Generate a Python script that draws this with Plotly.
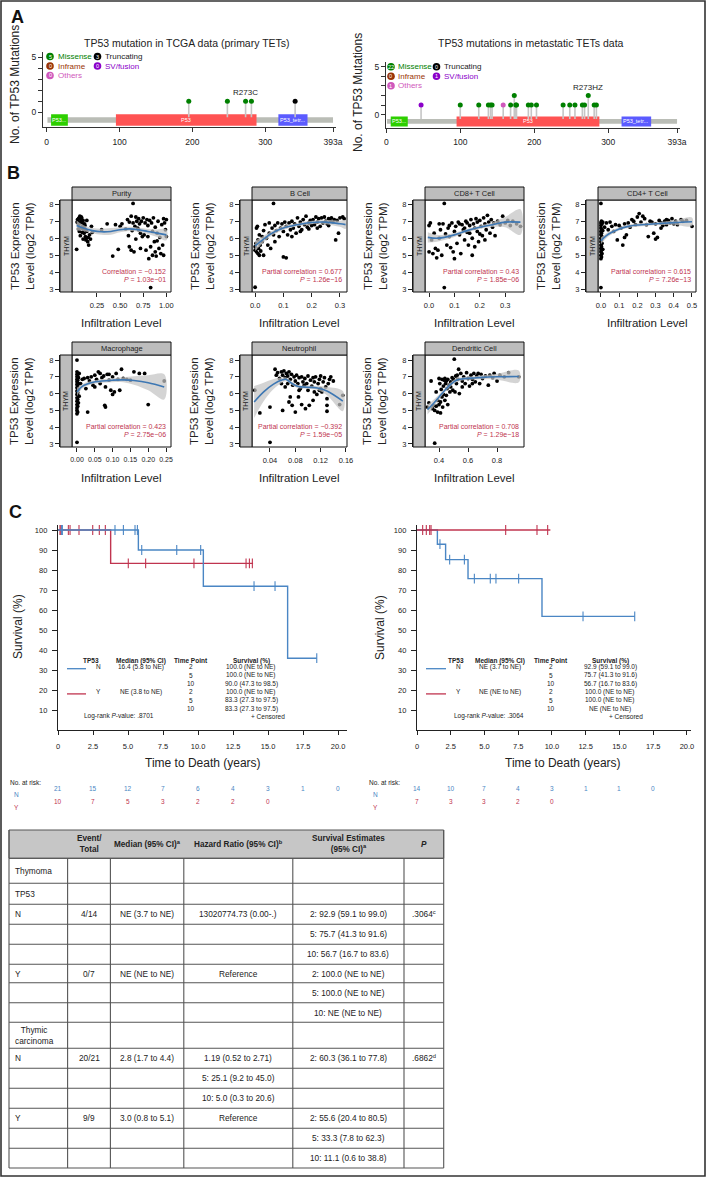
import plotly.graph_objects as go

W, H = 706, 1177
NARROW = "'Liberation Sans Narrow', 'Arial Narrow', 'Liberation Sans', Arial, sans-serif"
SANS = "'Liberation Sans', Arial, sans-serif"

BLUE = '#4a86c4'
RED = '#c0344f'
LOESS = '#3d77b3'


def px(x):
    return x / W


def py(y):
    return 1 - y / H


# ---------------------------------------------------------------- panel A data
aa_tickvals = [0, 100, 200, 300, 393]
aa_ticktext = ['0', '100', '200', '300', '393a']
protein_len = 393
dom_label = ['P53...', 'P53', 'P53_tetr...']
dom_start = [6, 95, 318]
dom_end = [29, 288, 358]
dom_color = ['#2dcf00', '#ff5353', '#5b5bff']

mut_color = {'Missense': '#008000', 'Truncating': '#000000', 'Inframe': '#993404',
             'SV/fusion': '#8b00c9', 'Others': '#cf58bc'}

tcga_pos = [195, 248, 273, 281, 341]
tcga_cnt = [1, 1, 1, 1, 1]
tcga_type = ['Missense', 'Missense', 'Missense', 'Missense', 'Truncating']
tcga_legend = {'Missense': 5, 'Inframe': 0, 'Others': 0, 'Truncating': 3, 'SV/fusion': 0}

meta_pos = [47, 100, 125, 138, 141, 143, 158, 168, 173, 175, 176, 192, 196, 203,
            239, 248, 255, 265, 268, 273, 281, 284]
meta_cnt = [1, 1, 1, 1, 1, 1, 1, 1, 2, 1, 1, 1, 1, 1, 1, 1, 1, 1, 1, 2, 1, 1]
meta_type = ['SV/fusion'] + ['Missense'] * 5 + ['Others'] + ['Missense'] * 15
meta_legend = {'Missense': 22, 'Inframe': 0, 'Others': 1, 'Truncating': 0, 'SV/fusion': 1}

# ---------------------------------------------------------------- panel B data
purity_pts = [(0.03, 5.35), (0.035, 6.95), (0.04, 7.1), (0.045, 6.9), (0.05, 7.15), (0.055, 6.8),
              (0.06, 7.2), (0.065, 7.3), (0.07, 6.95), (0.075, 7.1), (0.08, 6.6), (0.085, 7.2),
              (0.09, 6.9), (0.095, 6.7), (0.1, 7.05), (0.105, 6.5), (0.11, 6.3), (0.115, 6.85),
              (0.12, 6.55), (0.125, 6.1), (0.13, 5.9), (0.135, 6.0), (0.14, 6.4), (0.15, 5.8),
              (0.155, 6.05), (0.16, 5.6), (0.17, 6.2), (0.18, 5.95), (0.19, 6.7), (0.2, 6.35),
              (0.06, 6.4), (0.07, 6.15), (0.09, 6.35), (0.1, 5.95), (0.12, 6.75), (0.14, 7.05),
              (0.08, 7.25), (0.05, 6.55), (0.3, 6.5), (0.36, 6.85), (0.42, 4.95), (0.45, 6.8),
              (0.48, 5.35), (0.5, 6.7), (0.52, 6.85), (0.56, 6.55), (0.58, 7.1), (0.6, 5.5),
              (0.6, 6.95), (0.62, 5.3), (0.62, 7.3), (0.64, 8.05), (0.64, 6.9), (0.65, 5.2),
              (0.66, 6.7), (0.67, 5.95), (0.67, 7.25), (0.68, 7.0), (0.7, 7.15), (0.7, 6.5),
              (0.71, 6.85), (0.72, 5.4), (0.73, 7.0), (0.74, 6.1), (0.75, 7.2), (0.76, 6.2),
              (0.77, 6.9), (0.63, 6.45), (0.69, 6.6), (0.72, 6.3), (0.59, 6.15), (0.78, 5.3),
              (0.79, 7.1), (0.8, 6.75), (0.8, 6.1), (0.81, 4.8), (0.82, 7.05), (0.83, 3.1),
              (0.83, 5.5), (0.84, 6.9), (0.85, 6.4), (0.85, 5.0), (0.86, 7.2), (0.87, 5.8),
              (0.88, 6.65), (0.88, 5.2), (0.89, 4.95), (0.9, 6.3), (0.91, 7.0), (0.92, 5.4),
              (0.93, 6.05), (0.94, 5.1), (0.95, 6.8), (0.96, 5.6), (0.97, 7.15), (0.98, 6.9),
              (0.99, 6.5), (1.0, 7.1), (1.0, 6.1), (0.97, 5.0), (0.9, 5.85)]
purity_fit_x = [0.03, 0.1, 0.2, 0.3, 0.4, 0.5, 0.6, 0.7, 0.8, 0.9, 1.0]
purity_fit_y = [6.75, 6.6, 6.45, 6.38, 6.4, 6.5, 6.55, 6.5, 6.4, 6.3, 6.2]
purity_fit_se = [0.3, 0.18, 0.15, 0.18, 0.2, 0.15, 0.12, 0.12, 0.15, 0.22, 0.32]

bcell_pts = [(0.0, 3.12), (0.0, 5.3), (0.0, 5.5), (0.003, 5.7), (0.005, 6.6), (0.005, 5.2),
             (0.008, 6.7), (0.01, 5.1), (0.01, 5.9), (0.012, 5.4), (0.015, 6.2), (0.015, 5.0),
             (0.018, 5.6), (0.02, 5.25), (0.025, 6.1), (0.025, 5.8), (0.03, 5.0), (0.03, 6.45),
             (0.035, 6.8), (0.04, 6.0), (0.045, 5.6), (0.05, 6.3), (0.05, 6.9), (0.055, 5.4),
             (0.06, 6.6), (0.065, 8.05), (0.065, 6.2), (0.07, 6.75), (0.07, 5.8), (0.075, 6.45),
             (0.08, 6.9), (0.085, 6.1), (0.09, 6.6), (0.095, 6.85), (0.1, 4.9), (0.1, 6.4),
             (0.105, 6.95), (0.11, 4.85), (0.11, 6.7), (0.115, 6.2), (0.12, 6.9), (0.125, 6.5),
             (0.13, 7.0), (0.135, 6.6), (0.14, 6.85), (0.145, 6.3), (0.15, 7.2), (0.155, 6.7),
             (0.16, 6.95), (0.165, 6.5), (0.17, 7.1), (0.175, 6.8), (0.18, 7.3), (0.185, 6.65),
             (0.19, 6.9), (0.195, 7.05), (0.2, 6.75), (0.13, 6.1), (0.16, 6.4), (0.19, 6.55),
             (0.205, 7.1), (0.21, 6.8), (0.215, 7.25), (0.22, 6.95), (0.225, 7.15), (0.23, 6.7),
             (0.235, 7.2), (0.24, 6.9), (0.245, 7.25), (0.25, 7.0), (0.255, 6.85), (0.26, 7.15),
             (0.265, 7.05), (0.27, 7.2), (0.275, 6.95), (0.28, 7.1), (0.285, 5.9), (0.29, 7.05),
             (0.295, 6.3), (0.3, 7.2), (0.31, 7.25), (0.315, 7.15), (0.22, 6.6), (0.26, 6.75)]
bcell_fit_x = [0.0, 0.03, 0.06, 0.1, 0.15, 0.2, 0.25, 0.3, 0.32]
bcell_fit_y = [5.55, 5.95, 6.3, 6.6, 6.8, 6.93, 6.95, 6.85, 6.8]
bcell_fit_se = [0.3, 0.2, 0.14, 0.12, 0.1, 0.1, 0.12, 0.18, 0.25]

cd8_pts = [(0.0, 6.75), (0.0, 5.2), (0.005, 6.9), (0.01, 5.9), (0.015, 5.1), (0.02, 6.3),
           (0.025, 5.4), (0.03, 4.85), (0.035, 5.3), (0.04, 6.0), (0.045, 6.5), (0.05, 5.0),
           (0.055, 6.85), (0.06, 8.05), (0.06, 3.1), (0.065, 6.25), (0.07, 5.6), (0.075, 6.6),
           (0.08, 6.1), (0.085, 5.45), (0.09, 6.9), (0.095, 5.2), (0.1, 6.4), (0.1, 4.8),
           (0.105, 6.7), (0.11, 5.7), (0.115, 6.95), (0.12, 6.2), (0.125, 5.1), (0.13, 6.8),
           (0.135, 6.5), (0.14, 5.9), (0.145, 7.0), (0.15, 6.35), (0.15, 6.9), (0.155, 5.6),
           (0.16, 6.75), (0.165, 7.1), (0.17, 6.0), (0.17, 5.0), (0.175, 6.85), (0.18, 6.6),
           (0.185, 7.15), (0.19, 6.4), (0.19, 6.95), (0.195, 5.8), (0.2, 7.05), (0.205, 6.7),
           (0.21, 6.15), (0.215, 7.2), (0.22, 6.85), (0.225, 6.5), (0.23, 7.35), (0.235, 6.95),
           (0.24, 6.3), (0.245, 7.1), (0.25, 6.65), (0.255, 6.9), (0.26, 6.15), (0.27, 7.0),
           (0.28, 6.8), (0.29, 7.3), (0.3, 6.9), (0.31, 7.05), (0.32, 6.75), (0.33, 7.0),
           (0.345, 6.85), (0.36, 6.7), (0.12, 6.85), (0.14, 6.6), (0.16, 6.3), (0.18, 5.5),
           (0.2, 6.25), (0.22, 5.9), (0.08, 6.75), (0.04, 6.85)]
cd8_fit_x = [-0.005, 0.03, 0.06, 0.1, 0.15, 0.2, 0.25, 0.3, 0.36]
cd8_fit_y = [6.05, 6.0, 6.05, 6.2, 6.45, 6.65, 6.8, 6.95, 6.95]
cd8_fit_se = [0.3, 0.2, 0.15, 0.12, 0.1, 0.1, 0.14, 0.3, 0.75]

cd4_pts = [(0.0, 8.05), (0.0, 3.1), (0.0, 4.8), (0.0, 5.0), (0.0, 5.2), (0.0, 5.4), (0.0, 5.6),
           (0.0, 5.8), (0.0, 6.0), (0.0, 6.2), (0.0, 6.4), (0.0, 6.6), (0.0, 6.75), (0.0, 6.9),
           (0.003, 4.9), (0.003, 5.3), (0.003, 5.5), (0.003, 5.9), (0.003, 6.3), (0.003, 6.5),
           (0.003, 7.0), (0.006, 5.1), (0.006, 5.7), (0.006, 6.1), (0.006, 6.85), (0.01, 5.35),
           (0.01, 6.45), (0.01, 6.95), (0.02, 6.65), (0.03, 6.9), (0.04, 6.5), (0.05, 6.95),
           (0.06, 6.7), (0.07, 6.4), (0.08, 6.8), (0.09, 5.9), (0.1, 6.75), (0.11, 6.6),
           (0.12, 5.6), (0.13, 6.05), (0.13, 6.85), (0.14, 6.2), (0.15, 6.9), (0.16, 6.65),
           (0.17, 7.1), (0.18, 7.0), (0.19, 6.8), (0.2, 7.25), (0.21, 7.45), (0.22, 6.95),
           (0.23, 7.3), (0.24, 7.15), (0.25, 6.8), (0.26, 6.1), (0.27, 7.0), (0.28, 6.95),
           (0.29, 6.3), (0.3, 5.95), (0.3, 6.85), (0.31, 6.05), (0.32, 7.05), (0.33, 6.9),
           (0.34, 6.75), (0.35, 7.0), (0.36, 6.8), (0.37, 7.05), (0.38, 6.9), (0.39, 7.15),
           (0.4, 6.85), (0.41, 7.0), (0.42, 6.8), (0.44, 7.1), (0.45, 7.0), (0.47, 7.05),
           (0.5, 6.7), (0.33, 6.6), (0.36, 7.1)]
cd4_fit_x = [0.0, 0.03, 0.06, 0.1, 0.15, 0.2, 0.3, 0.4, 0.5]
cd4_fit_y = [5.85, 6.15, 6.35, 6.55, 6.7, 6.78, 6.85, 6.92, 6.97]
cd4_fit_se = [0.2, 0.15, 0.12, 0.1, 0.1, 0.1, 0.08, 0.12, 0.25]

macro_pts = [(0.0, 8.0), (0.0, 3.1), (0.0, 4.8), (0.0, 5.0), (0.0, 5.15), (0.0, 5.35), (0.0, 5.55),
             (0.0, 5.75), (0.0, 5.95), (0.0, 6.15), (0.0, 6.35), (0.0, 6.55), (0.0, 6.7),
             (0.0, 6.85), (0.0, 7.0), (0.0, 7.15), (0.0, 7.3), (0.002, 4.9), (0.002, 5.25),
             (0.002, 5.65), (0.002, 6.05), (0.002, 6.45), (0.002, 6.8), (0.002, 7.05),
             (0.004, 5.45), (0.004, 6.25), (0.004, 6.6), (0.004, 6.95), (0.006, 5.85),
             (0.006, 7.2), (0.01, 6.6), (0.015, 6.85), (0.02, 6.9), (0.025, 6.3), (0.03, 4.9),
             (0.03, 6.95), (0.035, 6.75), (0.04, 7.0), (0.045, 6.5), (0.05, 7.1), (0.055, 6.85),
             (0.06, 7.3), (0.065, 6.6), (0.07, 6.95), (0.075, 7.05), (0.078, 5.3), (0.08, 5.2),
             (0.08, 6.4), (0.085, 7.15), (0.09, 6.8), (0.095, 6.2), (0.1, 5.95), (0.1, 7.0),
             (0.105, 6.1), (0.11, 7.2), (0.115, 6.85), (0.12, 6.2), (0.125, 7.45), (0.13, 6.9),
             (0.14, 6.85), (0.15, 6.8), (0.16, 7.3), (0.175, 7.2), (0.19, 7.2), (0.2, 5.35),
             (0.245, 6.75), (0.05, 6.4), (0.065, 7.2), (0.09, 7.15)]
macro_fit_x = [0.0, 0.01, 0.02, 0.04, 0.07, 0.1, 0.13, 0.16, 0.2, 0.245]
macro_fit_y = [6.1, 6.35, 6.5, 6.65, 6.75, 6.8, 6.82, 6.78, 6.65, 6.4]
macro_fit_se = [0.25, 0.15, 0.12, 0.1, 0.1, 0.12, 0.15, 0.25, 0.45, 0.75]

neut_pts = [(0.016, 6.2), (0.024, 4.85), (0.04, 3.1), (0.04, 5.2), (0.048, 7.45), (0.05, 7.1),
            (0.052, 7.25), (0.055, 6.9), (0.058, 7.3), (0.06, 7.1), (0.06, 5.0), (0.062, 7.35),
            (0.064, 6.95), (0.066, 7.2), (0.068, 7.05), (0.068, 6.6), (0.07, 7.3), (0.07, 5.5),
            (0.072, 6.85), (0.074, 7.15), (0.075, 5.3), (0.076, 6.5), (0.078, 7.0), (0.08, 6.75),
            (0.08, 4.9), (0.082, 7.1), (0.084, 6.6), (0.085, 5.8), (0.086, 6.95), (0.088, 6.3),
            (0.09, 7.0), (0.09, 5.35), (0.092, 6.7), (0.094, 6.5), (0.095, 6.9), (0.096, 5.1),
            (0.098, 6.6), (0.1, 7.05), (0.1, 6.2), (0.102, 5.3), (0.104, 6.8), (0.106, 6.45),
            (0.108, 6.95), (0.11, 6.1), (0.11, 6.7), (0.112, 7.0), (0.114, 5.95), (0.116, 6.6),
            (0.118, 6.85), (0.12, 6.3), (0.12, 7.05), (0.122, 6.1), (0.124, 6.7), (0.126, 6.95),
            (0.128, 6.4), (0.13, 5.7), (0.13, 5.3), (0.13, 4.95), (0.132, 6.6), (0.134, 6.85),
            (0.136, 7.0), (0.14, 6.75), (0.155, 5.9), (0.064, 6.4), (0.072, 5.8), (0.086, 6.2),
            (0.058, 6.6), (0.108, 5.6), (0.118, 6.2), (0.15, 5.35)]
neut_fit_x = [0.015, 0.03, 0.045, 0.06, 0.065, 0.075, 0.085, 0.1, 0.115, 0.13, 0.155]
neut_fit_y = [5.5, 6.1, 6.55, 6.82, 6.85, 6.6, 6.42, 6.38, 6.33, 6.15, 5.55]
neut_fit_se = [0.95, 0.55, 0.3, 0.15, 0.12, 0.1, 0.1, 0.1, 0.12, 0.25, 0.6]

dend_pts = [(0.32, 5.2), (0.33, 5.45), (0.345, 6.75), (0.355, 5.1), (0.36, 5.3), (0.37, 3.05),
            (0.37, 5.0), (0.38, 5.25), (0.38, 6.1), (0.39, 4.9), (0.39, 5.6), (0.4, 5.35),
            (0.4, 6.9), (0.405, 6.6), (0.41, 4.85), (0.41, 5.5), (0.415, 6.25), (0.42, 5.8),
            (0.42, 6.85), (0.425, 5.2), (0.43, 6.45), (0.43, 5.95), (0.435, 6.8), (0.44, 5.6),
            (0.44, 6.9), (0.445, 6.6), (0.45, 5.9), (0.45, 6.75), (0.455, 6.3), (0.46, 5.35),
            (0.46, 6.85), (0.47, 6.5), (0.475, 6.1), (0.48, 6.7), (0.49, 6.95), (0.495, 6.2),
            (0.5, 6.85), (0.505, 8.05), (0.51, 6.1), (0.515, 7.05), (0.52, 6.6), (0.525, 7.1),
            (0.53, 6.85), (0.535, 7.45), (0.54, 6.0), (0.55, 7.2), (0.56, 6.75), (0.57, 7.0),
            (0.58, 6.6), (0.59, 7.25), (0.6, 6.9), (0.61, 6.45), (0.62, 7.1), (0.63, 6.85),
            (0.64, 7.2), (0.65, 6.7), (0.66, 7.05), (0.67, 7.2), (0.68, 6.6), (0.69, 7.15),
            (0.7, 6.9), (0.72, 7.05), (0.74, 6.5), (0.75, 7.1), (0.77, 6.95), (0.78, 7.2),
            (0.8, 6.75), (0.82, 7.1), (0.85, 7.0), (0.88, 7.25), (0.95, 7.0), (0.63, 6.6),
            (0.48, 6.4), (0.56, 6.4)]
dend_fit_x = [0.32, 0.36, 0.4, 0.44, 0.48, 0.52, 0.56, 0.62, 0.7, 0.8, 0.95]
dend_fit_y = [5.05, 5.4, 5.8, 6.2, 6.55, 6.8, 6.88, 6.92, 6.97, 7.0, 7.02]
dend_fit_se = [0.3, 0.22, 0.15, 0.12, 0.12, 0.12, 0.1, 0.1, 0.12, 0.18, 0.35]

b_names = ['Purity', 'B Cell', 'CD8+ T Cell', 'CD4+ T Cell', 'Macrophage', 'Neutrophil', 'Dendritic Cell']
b_corr_label = ['Correlation', 'Partial correlation', 'Partial correlation', 'Partial correlation',
                'Partial correlation', 'Partial correlation', 'Partial correlation']
b_corr = ['\u22120.152', '0.677', '0.43', '0.615', '0.423', '\u22120.392', '0.708']
b_pval = ['1.03e\u221201', '1.26e\u221216', '1.85e\u221206', '7.26e\u221213', '2.75e\u221206',
          '1.59e\u221205', '1.29e\u221218']
b_xticks = [[0.25, 0.5, 0.75, 1.0], [0, 0.1, 0.2, 0.3], [0, 0.1, 0.2, 0.3],
            [0, 0.1, 0.2, 0.3, 0.4, 0.5], [0, 0.05, 0.1, 0.15, 0.2, 0.25],
            [0.04, 0.08, 0.12, 0.16], [0.4, 0.6, 0.8]]
b_xticktext = [['0.25', '0.50', '0.75', '1.00'], ['0.0', '0.1', '0.2', '0.3'],
               ['0.0', '0.1', '0.2', '0.3'], ['0.0', '0.1', '0.2', '0.3', '0.4', '0.5'],
               ['0.00', '0.05', '0.10', '0.15', '0.20', '0.25'], ['0.04', '0.08', '0.12', '0.16'],
               ['0.4', '0.6', '0.8']]
b_yticks = [3, 4, 5, 6, 7, 8]

# ---------------------------------------------------------------- panel C data
km_ticks = [0, 2.5, 5, 7.5, 10, 12.5, 15, 17.5, 20]
km_ticktext = ['0', '2.5', '5.0', '7.5', '10.0', '12.5', '15.0', '17.5', '20.0']
km_yticks = [10, 20, 30, 40, 50, 60, 70, 80, 90, 100]

kmL_N_t = [0, 5.74, 10.38, 16.4, 18.48]
kmL_N_s = [100, 90.0, 71.9, 35.9, 35.9]
kmL_N_ct = [0.26, 0.31, 4.07, 4.67, 5.5, 5.67, 5.98, 8.48, 10.19, 14.0, 15.5, 18.48]
kmL_N_cs = [100, 100, 100, 100, 100, 100, 90, 90, 90, 71.9, 71.9, 35.9]
kmL_Y_t = [0, 3.76, 13.93]
kmL_Y_s = [100, 83.3, 83.3]
kmL_Y_ct = [0.14, 0.2, 0.74, 0.86, 1.5, 2.48, 2.95, 3.38, 5.02, 6.26, 9.71, 13.43, 13.67, 13.88]
kmL_Y_cs = [100, 100, 100, 100, 100, 100, 100, 100, 83.3, 83.3, 83.3, 83.3, 83.3, 83.3]

kmR_N_t = [0, 1.51, 2.12, 3.78, 9.26, 16.13]
kmR_N_s = [100, 92.9, 85.2, 75.7, 56.8, 56.8]
kmR_N_ct = [1.7, 2.42, 3.51, 4.25, 5.43, 5.85, 7.53, 12.3, 16.13]
kmR_N_cs = [92.9, 85.2, 85.2, 75.7, 75.7, 75.7, 75.7, 56.8, 56.8]
kmR_Y_t = [0, 9.88]
kmR_Y_s = [100, 100]
kmR_Y_ct = [0.42, 0.69, 0.94, 1.04, 6.57, 8.89, 9.68]
kmR_Y_cs = [100, 100, 100, 100, 100, 100, 100]

kmL_median = ['16.4 (5.8 to NE)', 'NE (3.8 to NE)']
kmL_surv = [['100.0 (NE to NE)', '100.0 (NE to NE)', '90.0 (47.3 to 98.5)'],
            ['100.0 (NE to NE)', '83.3 (27.3 to 97.5)', '83.3 (27.3 to 97.5)']]
kmL_logrank = '.8701'
kmR_median = ['NE (3.7 to NE)', 'NE (NE to NE)']
kmR_surv = [['92.9 (59.1 to 99.0)', '75.7 (41.3 to 91.6)', '56.7 (16.7 to 83.6)'],
            ['100.0 (NE to NE)', '100.0 (NE to NE)', 'NE (NE to NE)']]
kmR_logrank = '.3064'
km_timepoints = ['2', '5', '10']

riskL_N = [21, 15, 12, 7, 6, 4, 3, 1, 0]
riskL_Y = [10, 7, 5, 3, 2, 2, 0]
riskR_N = [14, 10, 7, 4, 3, 1, 1, 0]
riskR_Y = [7, 3, 3, 2, 0]

# ---------------------------------------------------------------- table data
tbl_header = ['', 'Event/<br>Total', 'Median (95% CI)<sup>a</sup>', 'Hazard Ratio (95% CI)<sup>b</sup>',
              'Survival Estimates<br>(95% CI)<sup>a</sup>', '<i>P</i>']
tbl_body = [
    ['Thymoma', '', '', '', '', ''],
    ['TP53', '', '', '', '', ''],
    ['N', '4/14', 'NE (3.7 to NE)', '13020774.73 (0.00-.)', '2: 92.9 (59.1 to 99.0)', '.3064<sup>c</sup>'],
    ['', '', '', '', '5: 75.7 (41.3 to 91.6)', ''],
    ['', '', '', '', '10: 56.7 (16.7 to 83.6)', ''],
    ['Y', '0/7', 'NE (NE to NE)', 'Reference', '2: 100.0 (NE to NE)', ''],
    ['', '', '', '', '5: 100.0 (NE to NE)', ''],
    ['', '', '', '', '10: NE (NE to NE)', ''],
    ['Thymic<br>carcinoma', '', '', '', '', ''],
    ['N', '20/21', '2.8 (1.7 to 4.4)', '1.19 (0.52 to 2.71)', '2: 60.3 (36.1 to 77.8)', '.6862<sup>d</sup>'],
    ['', '', '', '5: 25.1 (9.2 to 45.0)', '', ''],
    ['', '', '', '10: 5.0 (0.3 to 20.6)', '', ''],
    ['Y', '9/9', '3.0 (0.8 to 5.1)', 'Reference', '2: 55.6 (20.4 to 80.5)', ''],
    ['', '', '', '', '5: 33.3 (7.8 to 62.3)', ''],
    ['', '', '', '', '10: 11.1 (0.6 to 38.8)', ''],
]
tbl_cols = [9, 67.6, 110.4, 183.8, 292.8, 404, 443.7]
tbl_rows = [830, 858.3, 883.3, 904.3, 924.3, 944.3, 964.3, 982.7, 1002.7, 1022.3, 1048.3,
            1068.3, 1088.3, 1108.3, 1128.3, 1148.3, 1168]

# ----------------------------------------------------------------------------------------------
fig = go.Figure()
annots = []
shapes = []
axes = {}


def text(x, y, s, size=8, color='#222', family=NARROW, xanchor='center', yanchor='middle', angle=0):
    annots.append(dict(x=px(x), y=py(y), xref='paper', yref='paper', text=s, showarrow=False,
                       font=dict(size=size, color=color, family=family), xanchor=xanchor,
                       yanchor=yanchor, textangle=angle))


def rect(x0, y0, x1, y1, fill='rgba(0,0,0,0)', line='#222', lw=1):
    shapes.append(dict(type='rect', xref='paper', yref='paper', x0=px(x0), x1=px(x1),
                       y0=py(y1), y1=py(y0), fillcolor=fill, line=dict(color=line, width=lw)))


def seg(x0, y0, x1, y1, color='#444', lw=1):
    shapes.append(dict(type='line', xref='paper', yref='paper', x0=px(x0), x1=px(x1),
                       y0=py(y0), y1=py(y1), line=dict(color=color, width=lw)))


def ax_names(k):
    return ('x', 'y') if k == 1 else (f'x{k}', f'y{k}')


# ---------------------------------------------------------------- panel A
def lollipop(k, pos, cnt, typ, legend, hot, hot_label, xdom, ydom, xr, yr, leg_x, leg_y):
    xa, ya = ax_names(k)
    sx, sy = [], []
    for p, c in zip(pos, cnt):
        sx += [p, p, None]
        sy += [-0.45, c, None]
    fig.add_trace(go.Scatter(x=sx, y=sy, mode='lines', line=dict(color='#c6c6c6', width=1.6),
                             xaxis=xa, yaxis=ya, hoverinfo='skip'))
    fig.add_trace(go.Scatter(x=pos, y=cnt, mode='markers', xaxis=xa, yaxis=ya,
                             marker=dict(size=5, color=[mut_color[t] for t in typ])))
    shapes.append(dict(type='rect', xref=xa, yref=ya, x0=1, x1=protein_len, y0=-0.95, y1=-0.45,
                       fillcolor='#babdb6', line_width=0, layer='below'))
    for lab, a, b, col in zip(dom_label, dom_start, dom_end, dom_color):
        shapes.append(dict(type='rect', xref=xa, yref=ya, x0=a, x1=b, y0=-1.22, y1=-0.18,
                           fillcolor=col, line_width=0, layer='below'))
        annots.append(dict(x=(a + b) / 2, y=-0.7, xref=xa, yref=ya, text=lab, showarrow=False,
                           font=dict(size=5.5, color='white', family=SANS)))
    hc = cnt[pos.index(hot)]
    annots.append(dict(x=hot, y=hc, xref=xa, yref=ya, text=hot_label, showarrow=False,
                       yanchor='bottom', yshift=2, font=dict(size=8, color='#222', family=SANS)))
    common = dict(showline=True, linecolor='#333', linewidth=1.2, ticks='outside', ticklen=4,
                  tickcolor='#333', showgrid=False, zeroline=False, tickangle=0,
                  tickfont=dict(size=8.5, color='#222', family=SANS))
    axes['xaxis' if k == 1 else f'xaxis{k}'] = dict(
        domain=[px(xdom[0]), px(xdom[1])], range=xr, anchor=ya, tickvals=aa_tickvals,
        ticktext=aa_ticktext, ticklabelstandoff=2, **common)
    axes['yaxis' if k == 1 else f'yaxis{k}'] = dict(
        domain=[py(ydom[1]), py(ydom[0])], range=yr, anchor=xa, tickvals=[0, 5], **common)
    # unit ticks without labels
    axes['yaxis' if k == 1 else f'yaxis{k}']['minor'] = dict(tickvals=[1, 2, 3, 4], ticks='outside',
                                                             ticklen=4, tickcolor='#333')
    entries = [('Missense', 0, 0), ('Inframe', 0, 1), ('Others', 0, 2),
               ('Truncating', 1, 0), ('SV/fusion', 1, 1)]
    for name, c, r in entries:
        cx, cy = leg_x[c], leg_y[r]
        col = mut_color[name]
        shapes.append(dict(type='circle', xref='paper', yref='paper', x0=px(cx - 3.8),
                           x1=px(cx + 3.8), y0=py(cy + 3.8), y1=py(cy - 3.8),
                           fillcolor=col, line_width=0))
        text(cx, cy, str(legend[name]), size=5.5, color='white', family=SANS)
        text(cx + 5.5, cy, name, size=8, color=col if name != 'Truncating' else '#222',
             family=SANS, xanchor='left')


lollipop(1, tcga_pos, tcga_cnt, tcga_type, tcga_legend, 273, 'R273C',
         (43, 336), (52, 127.3), [-5.1, 397.1], [-1.36, 5.48], (50, 97.5), (56.5, 66, 75.5))
lollipop(2, meta_pos, meta_cnt, meta_type, meta_legend, 273, 'R273HZ',
         (386, 680), (62, 127.7), [-0.4, 397.0], [-1.354, 5.49], (391, 436.5), (66.7, 76.3, 85.7))

text(187, 43, 'TP53 mutation in TCGA data (primary TETs)', size=10.5, family=SANS)
text(531, 43, 'TP53 mutations in metastatic TETs data', size=10.5, family=SANS)
text(15, 85, 'No. of TP53 Mutations', size=12, angle=-90, family=SANS)
text(358, 92, 'No. of TP53 Mutations', size=12, angle=-90, family=SANS)
text(17, 17, '<b>A</b>', size=18, color='#111', family=SANS)

# ---------------------------------------------------------------- panel B
b_cols = [(72, 171), (252, 347), (425, 524), (598, 696)]
b_rows = [(200, 292), (355, 447)]
b_yrange = [[2.84, 8.25], [2.82, 8.30]]
b_xrange = [[-0.02, 1.05], [-0.011, 0.325], [-0.016, 0.374], [-0.016, 0.522],
            [-0.014, 0.264], [0.0116, 0.1616], [0.303, 0.986]]
b_pts = [purity_pts, bcell_pts, cd8_pts, cd4_pts, macro_pts, neut_pts, dend_pts]
b_fit = [(purity_fit_x, purity_fit_y, purity_fit_se), (bcell_fit_x, bcell_fit_y, bcell_fit_se),
         (cd8_fit_x, cd8_fit_y, cd8_fit_se), (cd4_fit_x, cd4_fit_y, cd4_fit_se),
         (macro_fit_x, macro_fit_y, macro_fit_se), (neut_fit_x, neut_fit_y, neut_fit_se),
         (dend_fit_x, dend_fit_y, dend_fit_se)]

for i, name in enumerate(b_names):
    k = 3 + i
    xa, ya = ax_names(k)
    r, c = divmod(i, 4)
    x0, x1 = b_cols[c]
    y0, y1 = b_rows[r]
    xs = [p[0] for p in b_pts[i]]
    ys = [p[1] for p in b_pts[i]]
    fig.add_trace(go.Scatter(x=xs, y=ys, mode='markers', xaxis=xa, yaxis=ya,
                             marker=dict(size=3.8, color='black')))
    fx, fy, fse = b_fit[i]
    up = [a + b for a, b in zip(fy, fse)]
    lo = [a - b for a, b in zip(fy, fse)]
    fig.add_trace(go.Scatter(x=fx + fx[::-1], y=up + lo[::-1], mode='lines', fill='toself',
                             fillcolor='rgba(196,196,196,0.72)', line=dict(width=0, shape='spline'),
                             xaxis=xa, yaxis=ya, hoverinfo='skip'))
    fig.add_trace(go.Scatter(x=fx, y=fy, mode='lines', line=dict(color=LOESS, width=1.6, shape='spline'),
                             xaxis=xa, yaxis=ya))
    axes[f'xaxis{k}'] = dict(domain=[px(x0), px(x1)], range=b_xrange[i], anchor=ya,
                             tickvals=b_xticks[i], ticktext=b_xticktext[i], ticks='outside',
                             ticklen=4, tickcolor='#222', showline=False, showgrid=False,
                             zeroline=False, ticklabelstandoff=2, tickangle=0,
                             tickfont=dict(size=7 if i == 4 else 7.5, color='#222', family=NARROW))
    axes[f'yaxis{k}'] = dict(domain=[py(y1), py(y0)], range=b_yrange[r], anchor='free',
                             position=px(x0 - 13), tickvals=b_yticks, ticks='outside', ticklen=4,
                             tickcolor='#222', showline=True, linecolor='#222', linewidth=1,
                             showgrid=False, zeroline=False, tickangle=0,
                             tickfont=dict(size=7.5, color='#222', family=NARROW))
    rect(x0, y0, x1, y1, line='#111', lw=1)
    rect(x0, y0 - 13, x1, y0, fill='#bdbdbd', line='#111', lw=1)
    rect(x0 - 12, y0, x0, y1, fill='#bdbdbd', line='#111', lw=1)
    text((x0 + x1) / 2, y0 - 6.5, name, size=7.5, family=SANS)
    text(x0 - 6, (y0 + y1) / 2, 'THYM', size=7, angle=-90, family=SANS)
    text(x1 - 3, y1 - 21, f'{b_corr_label[i]} = {b_corr[i]}', size=7, color='#c0344f',
         family=SANS, xanchor='right')
    text(x1 - 3, y1 - 13, f'<i>P</i> = {b_pval[i]}', size=7, color='#c0344f',
         family=SANS, xanchor='right')
    text((x0 + x1) / 2, y1 + 31, 'Infiltration Level', size=11.5, family=NARROW)
    text(x0 - 50, (y0 + y1) / 2, 'TP53 Expression<br>Level (log2 TPM)', size=11.5,
         angle=-90, family=NARROW)

text(13, 173, '<b>B</b>', size=18, color='#111', family=SANS)

# ---------------------------------------------------------------- panel C
def km_panel(k, curves, xdom, xr):
    xa, ya = ax_names(k)
    for t, s, ct, cs, col in curves:
        fig.add_trace(go.Scatter(x=t, y=s, mode='lines', line=dict(color=col, width=1.4, shape='hv'),
                                 xaxis=xa, yaxis=ya))
        fig.add_trace(go.Scatter(x=ct, y=cs, mode='markers', xaxis=xa, yaxis=ya,
                                 marker=dict(symbol='line-ns', size=7, line=dict(color=col, width=1.1))))
    common = dict(showline=True, linecolor='#222', linewidth=1.3, ticks='outside', tickcolor='#222',
                  showgrid=False, zeroline=False, tickangle=0,
                  tickfont=dict(size=7.5, color='#222', family=NARROW))
    axes[f'xaxis{k}'] = dict(domain=[px(xdom[0]), px(xdom[1])], range=xr, anchor=ya,
                             tickvals=km_ticks, ticktext=km_ticktext, ticklen=4,
                             ticklabelstandoff=5, **common)
    axes[f'yaxis{k}'] = dict(domain=[py(730), py(525)], range=[0, 102.5], anchor=xa,
                             tickvals=km_yticks, ticklen=5, ticklabelstandoff=3, **common)


km_panel(10, [(kmL_Y_t, kmL_Y_s, kmL_Y_ct, kmL_Y_cs, RED),
              (kmL_N_t, kmL_N_s, kmL_N_ct, kmL_N_cs, BLUE)], (58, 347), [0, 20.64])
km_panel(11, [(kmR_N_t, kmR_N_s, kmR_N_ct, kmR_N_cs, BLUE),
              (kmR_Y_t, kmR_Y_s, kmR_Y_ct, kmR_Y_cs, RED)], (417, 691), [0, 20.3])


def km_legend(cols, line_x, medians, survs, logrank, lr_x, cens_x):
    fs = 6.5
    hy = 660.7
    text(cols[0], hy, '<b>TP53</b>', size=fs)
    text(cols[2], hy, '<b>Median (95% CI)</b>', size=fs)
    text(cols[3], hy, '<b>Time Point</b>', size=fs)
    text(cols[4], hy, '<b>Survival (%)</b>', size=fs)
    for g, (lab, col) in enumerate([('N', BLUE), ('Y', RED)]):
        base = 666.7 + g * 25.2
        seg(line_x[0], base + 2, line_x[1], base + 2, color=col, lw=1.3)
        text(cols[1], base, lab, size=fs)
        text(cols[2], base, medians[g], size=fs)
        for j in range(3):
            text(cols[3], base + 8.4 * j, km_timepoints[j], size=fs)
            text(cols[4], base + 8.4 * j, survs[g][j], size=fs)
    text(lr_x, 716, f'Log-rank <i>P</i>-value: {logrank}', size=fs)
    text(cens_x, 716, '+ Censored', size=fs)


km_legend((91, 98, 140.5, 191.4, 251), (67, 86), kmL_median, kmL_surv, kmL_logrank, 119.4, 268)
km_legend((456, 458, 500, 550.5, 610), (426, 446), kmR_median, kmR_surv, kmR_logrank, 488.7, 626)

text(18, 627, 'Survival (%)', size=12, angle=-90, family=NARROW)
text(380, 627, 'Survival (%)', size=12, angle=-90, family=NARROW)
text(203, 763, 'Time to Death (years)', size=12, family=NARROW)
text(563, 763, 'Time to Death (years)', size=12, family=NARROW)
text(15, 512, '<b>C</b>', size=18, color='#111', family=SANS)


def risk_table(k, x_lab, nvals, yvals):
    xa, _ = ax_names(k)
    text(x_lab - 8, 782, 'No. at risk:', size=6.5, xanchor='left')
    text(x_lab, 794, 'N', size=6.5, color=BLUE)
    text(x_lab, 807, 'Y', size=6.5, color=RED)
    for vals, yy, col in [(nvals, 794, BLUE), (yvals, 807, RED)]:
        for t, v in zip(km_ticks, vals):
            annots.append(dict(x=t, y=py(yy), xref=xa, yref='paper', text=str(v), showarrow=False,
                               font=dict(size=6.5, color=col, family=NARROW)))


risk_table(10, 16, riskL_N, riskL_Y)
risk_table(11, 375, riskR_N, riskR_Y)

# ---------------------------------------------------------------- table
rect(tbl_cols[0], tbl_rows[0], tbl_cols[-1], tbl_rows[1], fill='#c6c6c6', line='#555', lw=1)
for yv in tbl_rows[1:]:
    seg(tbl_cols[0], yv, tbl_cols[-1], yv, color='#555', lw=1.1)
for xv in tbl_cols:
    seg(xv, tbl_rows[1], xv, tbl_rows[-1], color='#555', lw=1.1)
seg(tbl_cols[0], tbl_rows[0], tbl_cols[0], tbl_rows[1], color='#555', lw=1.1)
seg(tbl_cols[-1], tbl_rows[0], tbl_cols[-1], tbl_rows[1], color='#555', lw=1.1)

for j, h in enumerate(tbl_header):
    if h:
        text((tbl_cols[j] + tbl_cols[j + 1]) / 2, (tbl_rows[0] + tbl_rows[1]) / 2, f'<b>{h}</b>',
             size=8.2, color='#222')
for r, row in enumerate(tbl_body):
    yc = (tbl_rows[r + 1] + tbl_rows[r + 2]) / 2
    for j, cell in enumerate(row):
        if not cell:
            continue
        if j == 0:
            text(tbl_cols[0] + 4, yc, cell, size=8.3, xanchor='left')
        else:
            text((tbl_cols[j] + tbl_cols[j + 1]) / 2, yc, cell, size=8.3)

# outer frame
rect(1, 1, 705, 1176, line='#333', lw=1.6)

fig.update_layout(width=W, height=H, margin=dict(l=0, r=0, t=0, b=0), template='none',
                  paper_bgcolor='white', plot_bgcolor='rgba(0,0,0,0)', showlegend=False,
                  annotations=annots, shapes=shapes, **axes)
fig.write_html('out.html', config={'displayModeBar': False},
               post_script="document.body.style.margin='0';")
